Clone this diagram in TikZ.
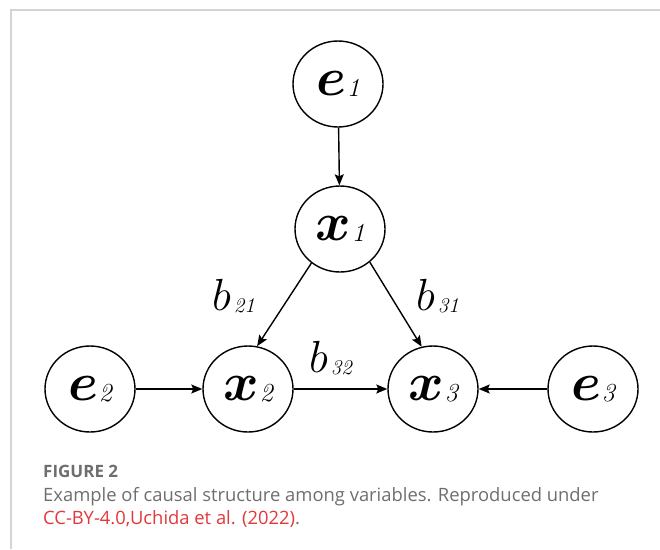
\RequirePackage{fix-cm}
\documentclass[tikz,border=0pt]{standalone}
\usepackage{fontspec}
\setsansfont{Open Sans}
\usetikzlibrary{shapes.geometric,arrows.meta}

\definecolor{framegray}{HTML}{D4D4D4}
\definecolor{capgray}{HTML}{6E6E6E}
\definecolor{capred}{HTML}{E2383A}

\newcommand{\varlbl}[2]{\mbox{\boldmath$#1$}\hspace{1pt}\raisebox{-1pt}{\fontsize{26}{26}\selectfont\itshape #2}}
\newcommand{\coeflbl}[1]{$b$\hspace{3pt}\raisebox{-2pt}{\fontsize{21}{21}\selectfont\itshape #1}}

\begin{document}
\begin{tikzpicture}[x=1pt,y=-1pt,
  var/.style={draw,ellipse,line width=1.4pt,minimum width=90pt,minimum height=86pt,
    inner sep=0pt,font=\fontsize{54}{54}\selectfont},
  coef/.style={font=\fontsize{45}{45}\selectfont,inner sep=0pt,anchor=base west},
  edge/.style={line width=1.4pt,-{Stealth[length=11pt,width=9pt,inset=2pt]}},
  captext/.style={anchor=base west,inner sep=0pt,font=\sffamily\fontsize{18.4}{18.4}\selectfont,text=capgray}]
\useasboundingbox (0,0) rectangle (660,549);
\draw [framegray,line width=2.5pt] (11,549) -- (11,10) -- (660,10);

\node [var] (e1) at (338,84) {\varlbl{e}{1}};
\node [var] (x1) at (340,229) {\varlbl{x}{1}};

\node [var] (e2) at (90,389) {\varlbl{e}{2}};
\node [var] (x2) at (248,389) {\varlbl{x}{2}};
\node [var] (x3) at (433,389) {\varlbl{x}{3}};
\node [var] (e3) at (593,389) {\varlbl{e}{3}};

\node [coef] (b21) at (212,310) {\coeflbl{21}};
\node [coef] (b31) at (416,310) {\coeflbl{31}};
\node [coef] (b32) at (309,372) {\coeflbl{32}};

\draw [edge] (e1) -- (x1);
\draw [edge] (x1.230) -- (x2.78);
\draw [edge] (x1.312) -- (x3.105);
\draw [edge] (e2) -- (x2);
\draw [edge] (x2) -- (x3);
\draw [edge] (e3) -- (x3);

\node [captext,font=\sffamily\bfseries\fontsize{17}{17}\selectfont] (fig) at (43,477) {FIGURE 2};
\node [captext] (desc) at (43,501) {Example of causal structure among variables. Reproduced under};
\node [captext,text=capred] (src) at (43,524) {CC-BY-4.0,Uchida et al. (2022)\textcolor{capgray}{.}};
\end{tikzpicture}
\end{document}
